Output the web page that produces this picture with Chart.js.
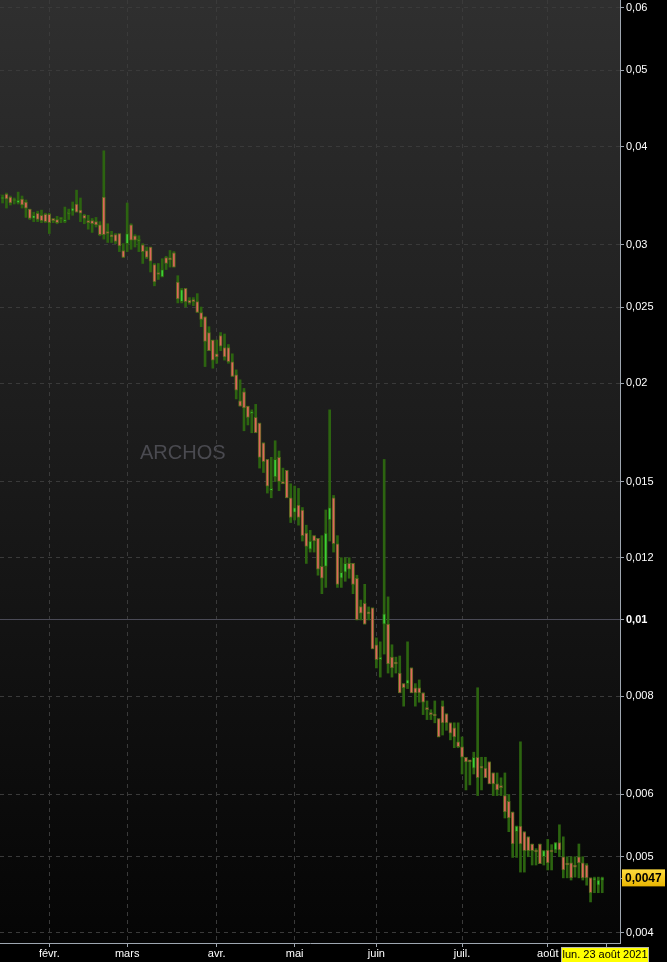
<!DOCTYPE html>
<html>
<head>
<meta charset="utf-8">
<title>ARCHOS</title>
<script src="https://cdn.jsdelivr.net/npm/chart.js@4"></script>
<style>
  html, body { margin: 0; padding: 0; background: #000; }
  #wrap { width: 667px; height: 962px; }
</style>
</head>
<body>
<div id="wrap"><canvas id="chart" width="667" height="962"></canvas></div>
<script>
// ARCHOS daily bars, one entry per trading day from 13 Jan 2021 (index 0)
const opens = [
  0.0346, 0.0343, 0.0348, 0.0345, 0.0341, 0.0339, 0.0343, 0.0340, 0.0333, 0.0324,
  0.0329, 0.0327, 0.0328, 0.0328, 0.0323, 0.0323, 0.0323, 0.0321, 0.0328, 0.0331,
  0.0338, 0.0332, 0.0327, 0.0321, 0.0322, 0.0321, 0.0318, 0.0345, 0.0311, 0.0308,
  0.0309, 0.0310, 0.0295, 0.0301, 0.0318, 0.0308, 0.0303, 0.0300, 0.0295, 0.0298,
  0.0283, 0.0276, 0.0273, 0.0289, 0.0288, 0.0293, 0.0269, 0.0254, 0.0264, 0.0255,
  0.0255, 0.0254, 0.0246, 0.0243, 0.0232, 0.0227, 0.0218, 0.0230, 0.0222, 0.0222,
  0.0213, 0.0205, 0.0190, 0.0195, 0.0187, 0.0183, 0.0181, 0.0178, 0.0168, 0.0160,
  0.0146, 0.0152, 0.0161, 0.0150, 0.0155, 0.0143, 0.0137, 0.0140, 0.0138, 0.0129,
  0.0123, 0.0128, 0.0127, 0.0117, 0.0117, 0.0134, 0.0143, 0.0125, 0.0113, 0.0115,
  0.0118, 0.0118, 0.0113, 0.0104, 0.0105, 0.01024, 0.01036, 0.00930, 0.00890, 0.00988,
  0.00988, 0.00897, 0.00882, 0.00856, 0.00830, 0.00830, 0.00869, 0.00820, 0.00820, 0.00808,
  0.00771, 0.00760, 0.00758, 0.00749, 0.00777, 0.00760, 0.00740, 0.00729, 0.00700, 0.00690,
  0.00669, 0.00662, 0.00648, 0.00669, 0.00650, 0.00648, 0.00660, 0.00639, 0.00619, 0.00614,
  0.00598, 0.00588, 0.00570, 0.00538, 0.00547, 0.00538, 0.00530, 0.00519, 0.00509, 0.00519,
  0.00500, 0.00510, 0.00509, 0.00510, 0.00521, 0.00500, 0.00490, 0.00491, 0.00487, 0.00500,
  0.00491, 0.00488, 0.00470, 0.00467, 0.00460, 0.00467
];
const highs = [
  0.0353, 0.0347, 0.0349, 0.0346, 0.0344, 0.0350, 0.0346, 0.0342, 0.0333, 0.0330,
  0.0331, 0.0332, 0.0329, 0.0329, 0.0324, 0.0326, 0.0325, 0.0335, 0.0333, 0.0340,
  0.0352, 0.0344, 0.0328, 0.0327, 0.0324, 0.0325, 0.0321, 0.0395, 0.0319, 0.0312,
  0.0310, 0.0310, 0.0301, 0.0339, 0.0319, 0.0309, 0.0308, 0.0301, 0.0298, 0.0298,
  0.0284, 0.0284, 0.0288, 0.0290, 0.0295, 0.0294, 0.0274, 0.0264, 0.0264, 0.0257,
  0.0257, 0.0260, 0.0250, 0.0243, 0.0236, 0.0227, 0.0227, 0.0232, 0.0231, 0.0224,
  0.0218, 0.0208, 0.0202, 0.0197, 0.0187, 0.0185, 0.0188, 0.0178, 0.0168, 0.0160,
  0.0161, 0.0169, 0.0164, 0.0156, 0.0155, 0.0149, 0.0148, 0.0147, 0.0139, 0.0132,
  0.0130, 0.0128, 0.0127, 0.0128, 0.0138, 0.0185, 0.0144, 0.0128, 0.0120, 0.0120,
  0.0120, 0.0118, 0.0114, 0.0106, 0.0111, 0.01039, 0.01036, 0.00949, 0.00938, 0.0160,
  0.0107, 0.00930, 0.00897, 0.00900, 0.00830, 0.00938, 0.00869, 0.00830, 0.00839, 0.00808,
  0.00789, 0.00769, 0.00789, 0.00749, 0.00789, 0.00760, 0.00740, 0.00740, 0.00740, 0.00710,
  0.00669, 0.00662, 0.00679, 0.00820, 0.00669, 0.00669, 0.00660, 0.00639, 0.00639, 0.00630,
  0.00639, 0.00600, 0.00570, 0.00547, 0.00700, 0.00538, 0.00530, 0.00519, 0.00512, 0.00519,
  0.00509, 0.00526, 0.00518, 0.00521, 0.00549, 0.00530, 0.00500, 0.00500, 0.00500, 0.00519,
  0.00500, 0.00490, 0.00470, 0.00471, 0.00471, 0.00471
];
const lows = [
  0.0339, 0.0339, 0.0334, 0.0337, 0.0338, 0.0338, 0.0334, 0.0325, 0.0323, 0.0321,
  0.0321, 0.0320, 0.0320, 0.0310, 0.0320, 0.0319, 0.0320, 0.0320, 0.0323, 0.0327,
  0.0330, 0.0321, 0.0319, 0.0314, 0.0311, 0.0316, 0.0308, 0.0305, 0.0302, 0.0302,
  0.0301, 0.0294, 0.0289, 0.0294, 0.0296, 0.0298, 0.0294, 0.0284, 0.0288, 0.0277,
  0.0266, 0.0271, 0.0273, 0.0279, 0.0281, 0.0281, 0.0253, 0.0253, 0.0250, 0.0252,
  0.0251, 0.0246, 0.0236, 0.0210, 0.0220, 0.0209, 0.0212, 0.0220, 0.0214, 0.0212,
  0.0204, 0.0191, 0.0187, 0.0174, 0.0177, 0.0173, 0.0173, 0.0156, 0.0154, 0.0145,
  0.0143, 0.0150, 0.0146, 0.0149, 0.0143, 0.0133, 0.0134, 0.0132, 0.0126, 0.0118,
  0.0122, 0.0122, 0.0114, 0.0108, 0.0110, 0.0126, 0.0122, 0.0110, 0.0110, 0.0112,
  0.0113, 0.0108, 0.0100, 0.0100, 0.00988, 0.01000, 0.00919, 0.00869, 0.00846, 0.00905,
  0.00856, 0.00846, 0.00856, 0.00808, 0.00777, 0.00818, 0.00808, 0.00777, 0.00786, 0.00758,
  0.00747, 0.00747, 0.00740, 0.00710, 0.00714, 0.00724, 0.00704, 0.00688, 0.00688, 0.00637,
  0.00608, 0.00617, 0.00637, 0.00598, 0.00608, 0.00630, 0.00619, 0.00598, 0.00598, 0.00598,
  0.00560, 0.00538, 0.00499, 0.00499, 0.00478, 0.00478, 0.00500, 0.00488, 0.00488, 0.00490,
  0.00488, 0.00481, 0.00481, 0.00506, 0.00500, 0.00470, 0.00470, 0.00467, 0.00471, 0.00470,
  0.00467, 0.00460, 0.00438, 0.00450, 0.00450, 0.00450
];
const closes = [
  0.0348, 0.0345, 0.0343, 0.0339, 0.0341, 0.0342, 0.0337, 0.0334, 0.0324, 0.0327,
  0.0323, 0.0322, 0.0321, 0.0320, 0.0322, 0.0320, 0.0323, 0.0323, 0.0328, 0.0334,
  0.0330, 0.0329, 0.0324, 0.0320, 0.0319, 0.0318, 0.0309, 0.0309, 0.0310, 0.0307,
  0.0303, 0.0299, 0.0289, 0.0310, 0.0304, 0.0304, 0.0303, 0.0294, 0.0289, 0.0286,
  0.0269, 0.0275, 0.0279, 0.0284, 0.0287, 0.0281, 0.0256, 0.0263, 0.0254, 0.0253,
  0.0254, 0.0246, 0.0241, 0.0226, 0.0220, 0.0214, 0.0216, 0.0223, 0.0216, 0.0213,
  0.0204, 0.0196, 0.0187, 0.0186, 0.0181, 0.0184, 0.0173, 0.0161, 0.0159, 0.0148,
  0.0147, 0.0160, 0.0150, 0.0149, 0.0143, 0.0135, 0.0139, 0.0135, 0.0128, 0.0124,
  0.0126, 0.0126, 0.0116, 0.0113, 0.0129, 0.0139, 0.0125, 0.0111, 0.0115, 0.0118,
  0.0116, 0.0111, 0.0100, 0.0102, 0.00988, 0.01018, 0.00919, 0.00890, 0.00897, 0.01018,
  0.00879, 0.00869, 0.00879, 0.00808, 0.00820, 0.00839, 0.00808, 0.00808, 0.00808, 0.00786,
  0.00769, 0.00758, 0.00755, 0.00710, 0.00740, 0.00740, 0.00718, 0.00710, 0.00690, 0.00669,
  0.00660, 0.00660, 0.00669, 0.00630, 0.00648, 0.00630, 0.00619, 0.00619, 0.00608, 0.00612,
  0.00570, 0.00560, 0.00519, 0.00547, 0.00519, 0.00509, 0.00509, 0.00509, 0.00507, 0.00490,
  0.00509, 0.00491, 0.00507, 0.00521, 0.00510, 0.00481, 0.00488, 0.00470, 0.00485, 0.00491,
  0.00470, 0.00470, 0.00450, 0.00468, 0.00467, 0.00470
];

// x axis: first trading day of each month, plus the cursor day
const monthTicks = [13, 33, 56, 76, 97, 119, 141];
const monthLabels = ["févr.", "mars", "avr.", "mai", "juin", "juil.", "août"];
const cursorIndex = 156;
const cursorLabel = "lun. 23 août 2021";

const yTicks = [0.004, 0.005, 0.006, 0.008, 0.01, 0.012, 0.015, 0.02, 0.025, 0.03, 0.04, 0.05, 0.06];

const FONT = "'Liberation Sans', Arial, sans-serif";
const AXIS = "#9ea6b0";
const fmt = v => v.toString().replace(".", ",");

const wickData = opens.map((_, i) => ({ x: i, y: [lows[i], highs[i]] }));
const bodyData = opens.map((o, i) => ({ x: i, y: [o, closes[i]] }));
const bodyFill = opens.map((o, i) => closes[i] < o ? "#e0665c" : closes[i] > o ? "#3ccf38" : "#5f7d26");
const bodyEdge = opens.map((o, i) => closes[i] < o ? "#55691e" : "#2c6410");

const backdrop = {
  id: "backdrop",
  beforeDraw(chart) {
    const { ctx, chartArea: a, width, height } = chart;
    ctx.save();
    ctx.fillStyle = "#000";
    ctx.fillRect(0, 0, width, height);
    const g = ctx.createLinearGradient(0, a.top, 0, a.bottom);
    g.addColorStop(0, "#2f2f2f");
    g.addColorStop(1, "#050505");
    ctx.fillStyle = g;
    ctx.fillRect(a.left, a.top, a.right - a.left, a.bottom - a.top);
    // watermark
    ctx.font = "20px " + FONT;
    ctx.fillStyle = "#4a4a50";
    ctx.textBaseline = "middle";
    ctx.fillText("ARCHOS", 140, 453);
    ctx.restore();
  }
};

const markers = {
  id: "markers",
  afterDraw(chart) {
    const { ctx, scales: { x, y } } = chart;
    const last = closes[closes.length - 1];
    ctx.save();

    // date cursor under the x axis
    ctx.font = "11px " + FONT;
    const cx = x.getPixelForValue(cursorIndex) - 2;
    const bw = ctx.measureText(cursorLabel).width + 2;
    const bx = Math.round(cx - bw / 2);
    ctx.fillStyle = "#ffff00";
    ctx.fillRect(bx, x.top + 4, Math.round(bw), 16);
    ctx.strokeStyle = "#b8b8a8";
    ctx.lineWidth = 1;
    ctx.strokeRect(bx + 0.5, x.top + 4.5, Math.round(bw), 16);
    ctx.fillStyle = "#000";
    ctx.textAlign = "center";
    ctx.textBaseline = "middle";
    ctx.fillText(cursorLabel, bx + bw / 2 + 0.5, x.top + 12);

    // last price tag on the y axis
    const py = y.getPixelForValue(last);
    ctx.strokeStyle = AXIS;
    ctx.beginPath();
    ctx.moveTo(y.left, Math.round(py) + 0.5);
    ctx.lineTo(y.left + 4, Math.round(py) + 0.5);
    ctx.stroke();
    const g = ctx.createLinearGradient(0, py - 9, 0, py + 9);
    g.addColorStop(0, "#ffdc40");
    g.addColorStop(1, "#e8b400");
    ctx.fillStyle = g;
    ctx.fillRect(y.left + 2, py - 8.5, 43, 17);
    ctx.font = "bold 12px " + FONT;
    ctx.fillStyle = "#000";
    ctx.textAlign = "left";
    ctx.fillText(fmt(last), y.left + 5, py + 0.5);
    ctx.restore();
  }
};

Chart.defaults.font.family = FONT;

new Chart(document.getElementById("chart"), {
  type: "bar",
  data: {
    datasets: [
      {
        data: bodyData,
        backgroundColor: bodyFill,
        borderColor: bodyEdge,
        borderWidth: 1,
        borderSkipped: false,
        barThickness: 3,
        minBarLength: 2,
        grouped: false,
        order: 1,
      },
      {
        data: wickData,
        backgroundColor: "#2c6410",
        borderWidth: 0,
        barThickness: 2,
        grouped: false,
        order: 2,
      },
    ],
  },
  options: {
    responsive: false,
    animation: false,
    layout: { padding: 0 },
    plugins: { legend: { display: false }, tooltip: { enabled: false } },
    scales: {
      x: {
        type: "linear",
        min: 0.34,
        max: 159.56,
        offset: false,
        afterBuildTicks: s => { s.ticks = monthTicks.concat([cursorIndex]).map(v => ({ value: v })); },
        afterFit: s => { s.height = 19; s.paddingLeft = 0; s.paddingRight = 0; },
        ticks: {
          autoSkip: false,
          maxRotation: 0,
          padding: 0,
          color: "#ffffff",
          font: { size: 11 },
          callback: (v, i) => monthLabels[i] || "",
        },
        grid: {
          offset: false,
          color: c => (c.tick && c.tick.value === cursorIndex ? "rgba(0,0,0,0)" : "#3a3a3a"),
          tickColor: AXIS,
          tickLength: 4,
          tickBorderDash: [],
        },
        border: { color: AXIS, dash: [4, 4] },
      },
      y: {
        type: "logarithmic",
        position: "right",
        min: 0.003884,
        max: 0.06142,
        afterBuildTicks: s => { s.ticks = yTicks.map(v => ({ value: v })); },
        afterFit: s => { s.width = 47; s.paddingTop = 0; s.paddingBottom = 0; },
        ticks: {
          padding: 2,
          color: "#ffffff",
          font: c => ({ size: 11, weight: c.tick && c.tick.value === 0.01 ? "bold" : "normal" }),
          callback: v => fmt(v),
        },
        grid: {
          color: c => (c.tick && c.tick.value === 0.01 ? "#4a4a56" : "#3a3a3a"),
          tickColor: AXIS,
          tickLength: 4,
          tickBorderDash: [],
        },
        border: {
          color: AXIS,
          dash: c => (c.tick && c.tick.value === 0.01 ? [] : [4, 4]),
        },
      },
    },
  },
  plugins: [backdrop, markers],
});
</script>
</body>
</html>
